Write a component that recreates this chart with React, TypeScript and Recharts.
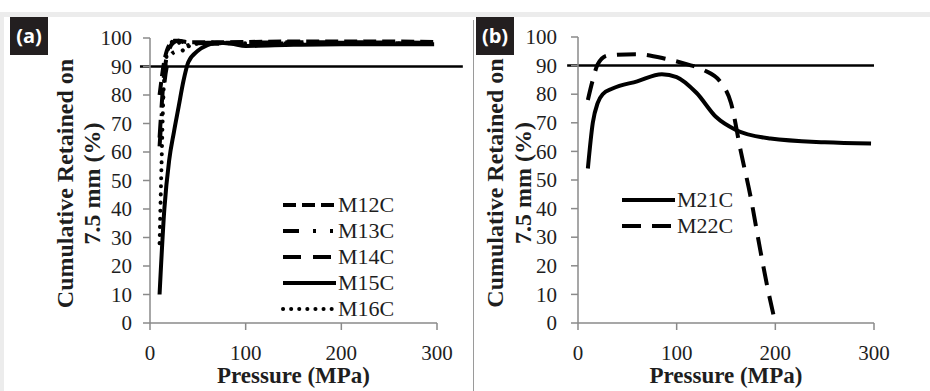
import React from "react";
import { LineChart, Line, XAxis, YAxis, ReferenceLine, Legend, Label } from "recharts";

// axes
const xTicks = [0, 100, 200, 300];
const yTicks = [0, 10, 20, 30, 40, 50, 60, 70, 80, 90, 100];
const threshold = 90;

// panel (a) – pressure (MPa), cumulative retained (%)
const m12c: [number, number][] = [[10, 80], [15, 92], [20, 97.5], [25, 99], [30, 99], [40, 98.5], [60, 98.5], [100, 98.6], [150, 98.8], [200, 98.8], [250, 98.8], [297, 98.6]];
const m13c: [number, number][] = [[10, 62], [15, 84], [20, 93], [25, 95], [30, 95.5], [40, 97.5], [60, 98], [100, 98], [200, 98.3], [297, 98]];
const m14c: [number, number][] = [[10, 65], [15, 88], [20, 96], [25, 98.5], [30, 99], [40, 98], [60, 98.3], [100, 98.4], [200, 98.5], [297, 98.3]];
const m15c: [number, number][] = [[10, 10], [15, 40], [20, 57], [25, 67], [30, 76], [35, 85], [40, 91.5], [50, 95.5], [60, 97.5], [70, 98.3], [85, 98], [100, 97.2], [150, 97.6], [200, 97.8], [297, 97.8]];
const m16c: [number, number][] = [[10, 28], [12, 55], [14, 80], [16, 90], [20, 97], [25, 99], [30, 98.5], [35, 95.5], [40, 97], [50, 98], [100, 98.2], [200, 98.2], [297, 98]];

// panel (b)
const m21c: [number, number][] = [[10, 54], [15, 70], [20, 77], [25, 80], [35, 82], [60, 84.5], [85, 87], [100, 86], [120, 80.5], [140, 72], [160, 67.5], [195, 64.5], [250, 63.2], [297, 62.8]];
const m22c: [number, number][] = [[10, 78], [15, 85], [20, 90.5], [30, 93.5], [60, 94], [90, 92.3], [110, 90.5], [127, 88.5], [145, 84], [155, 77], [165, 60], [175, 44], [185, 25], [192, 12.5], [200, 0]];

type Series = { name: string; points: [number, number][]; dash?: string; cap?: "round" | "butt" };

const seriesA: Series[] = [
  { name: "M12C", points: m12c, dash: "13 6" },
  { name: "M13C", points: m13c, dash: "16 14 3 14 3 14" },
  { name: "M14C", points: m14c, dash: "18 12" },
  { name: "M15C", points: m15c },
  { name: "M16C", points: m16c, dash: "0.1 8", cap: "round" },
];
const seriesB: Series[] = [
  { name: "M21C", points: m21c },
  { name: "M22C", points: m22c, dash: "19 11" },
];

const toRows = (pts: [number, number][]) => pts.map(([x, y]) => ({ x, y }));

const SERIF = "Liberation Serif";
const AXIS = "#8a8a8a";
const INK = "#1e1e1e";

const XTick = (p: any) => (
  <text x={p.x} y={p.y} dy="0.71em" textAnchor="middle" fontFamily={SERIF} fontSize={21} fill={INK}>
    {p.payload.value}
  </text>
);
const YTick = (p: any) => (
  <text x={p.x} y={p.y} dy="0.34em" textAnchor="end" fontFamily={SERIF} fontSize={21} fill={INK}>
    {p.payload.value}
  </text>
);

function yLabel(lines: string[], offs: number[]) {
  return (props: any) => {
    const vb = props.viewBox;
    const cy = vb.y + vb.height / 2 + 3;
    return (
      <g>
        {lines.map((t, i) => {
          const x = vb.x + offs[i];
          return (
            <text key={i} x={x} y={cy} transform={`rotate(-90 ${x} ${cy})`} textAnchor="middle"
              dominantBaseline="central" fontFamily={SERIF} fontWeight="bold" fontSize={24} fill={INK}>
              {t}
            </text>
          );
        })}
      </g>
    );
  };
}

function xLabel(props: any) {
  const vb = props.viewBox;
  return (
    <text x={vb.x + vb.width / 2} y={vb.y + 60} textAnchor="middle" fontFamily={SERIF}
      fontWeight="bold" fontSize={23} fill={INK}>
      Pressure (MPa)
    </text>
  );
}

function LegendBox({ items }: { items: Series[] }) {
  const row = 26;
  return (
    <svg width={130} height={items.length * row} style={{ display: "block" }}>
      {items.map((s, i) => {
        const cy = 13 + i * row;
        return (
          <g key={s.name}>
            <line x1={2} x2={55} y1={cy} y2={cy} stroke="#000" strokeWidth={4}
              strokeDasharray={s.dash} strokeLinecap={s.cap ?? "butt"} />
            <text x={57} y={cy} dy="0.34em" fontFamily={SERIF} fontSize={22} fill={INK}>
              {s.name}
            </text>
          </g>
        );
      })}
    </svg>
  );
}

function Panel({ series, width, yAxisWidth, top, right, legendPos, lineOffs, refFrom, refTo, yMargin }: {
  series: Series[]; width: number; yAxisWidth: number; top: number; right: number;
  legendPos: { left: number; top: number }; lineOffs: number[]; refFrom: number; refTo: number; yMargin: number;
}) {
  return (
    <LineChart width={width} height={391} margin={{ top, right, bottom: 0, left: 0 }}>
      <XAxis type="number" dataKey="x" domain={[0, 300]} ticks={xTicks} height={68}
        stroke={AXIS} strokeWidth={1.5} tickSize={7} tickMargin={15} tick={XTick}
        allowDuplicatedCategory={false}>
        <Label content={xLabel} />
      </XAxis>
      <YAxis type="number" domain={[0, 100]} ticks={yTicks} width={yAxisWidth} interval={0}
        stroke={AXIS} strokeWidth={1.5} tickSize={7} tickMargin={yMargin} tick={YTick}>
        <Label content={yLabel(["Cumulative Retained on", "7.5 mm (%)"], lineOffs)} />
      </YAxis>
      <ReferenceLine segment={[{ x: refFrom, y: threshold }, { x: refTo, y: threshold }]}
        stroke="#000" strokeWidth={2.5} ifOverflow="visible" />
      {series.map((s) => (
        <Line key={s.name} data={toRows(s.points)} dataKey="y" name={s.name} type="monotone"
          stroke="#000" strokeWidth={4} strokeDasharray={s.dash} strokeLinecap={s.cap ?? "butt"}
          dot={false} activeDot={false} isAnimationActive={false} />
      ))}
      <Legend layout="vertical" align="center" verticalAlign="middle"
        wrapperStyle={{ left: legendPos.left, top: legendPos.top, width: 130 }}
        content={() => <LegendBox items={series} />} />
    </LineChart>
  );
}

const tag: React.CSSProperties = {
  position: "absolute", width: 38, height: 38, background: "#231f20", color: "#fff",
  fontFamily: "'Open Sans', sans-serif", fontWeight: 700, fontSize: 20, lineHeight: "38px",
  textAlign: "center",
};

export default function App() {
  return (
    <div style={{ position: "relative", width: 930, height: 391, background: "#fff", overflow: "hidden" }}>
      <style>{"body{margin:0}"}</style>
      <div style={{ position: "absolute", left: 0, top: 12, width: 930, height: 5, background: "#ececec" }} />
      <div style={{ position: "absolute", left: 0, top: 12, width: 4, height: 379, background: "#ececec" }} />
      <div style={{ position: "absolute", left: 0, top: 0 }}>
        <Panel series={seriesA} width={470} yAxisWidth={150} top={38} right={33} yMargin={11}
          legendPos={{ left: 281, top: 192 }} lineOffs={[65, 92]} refFrom={-10.5} refTo={327} />
      </div>
      <div style={{ position: "absolute", left: 470, top: 0 }}>
        <Panel series={seriesB} width={460} yAxisWidth={108} top={37} right={56} yMargin={14}
          legendPos={{ left: 150, top: 187 }} lineOffs={[25, 53]} refFrom={-11} refTo={300} />
      </div>
      <div style={{ position: "absolute", left: 473, top: 20, width: 1, height: 371, background: "#9a9a9a" }} />
      <div style={{ ...tag, left: 10, top: 17 }}>(a)</div>
      <div style={{ ...tag, left: 476, top: 17 }}>(b)</div>
    </div>
  );
}
